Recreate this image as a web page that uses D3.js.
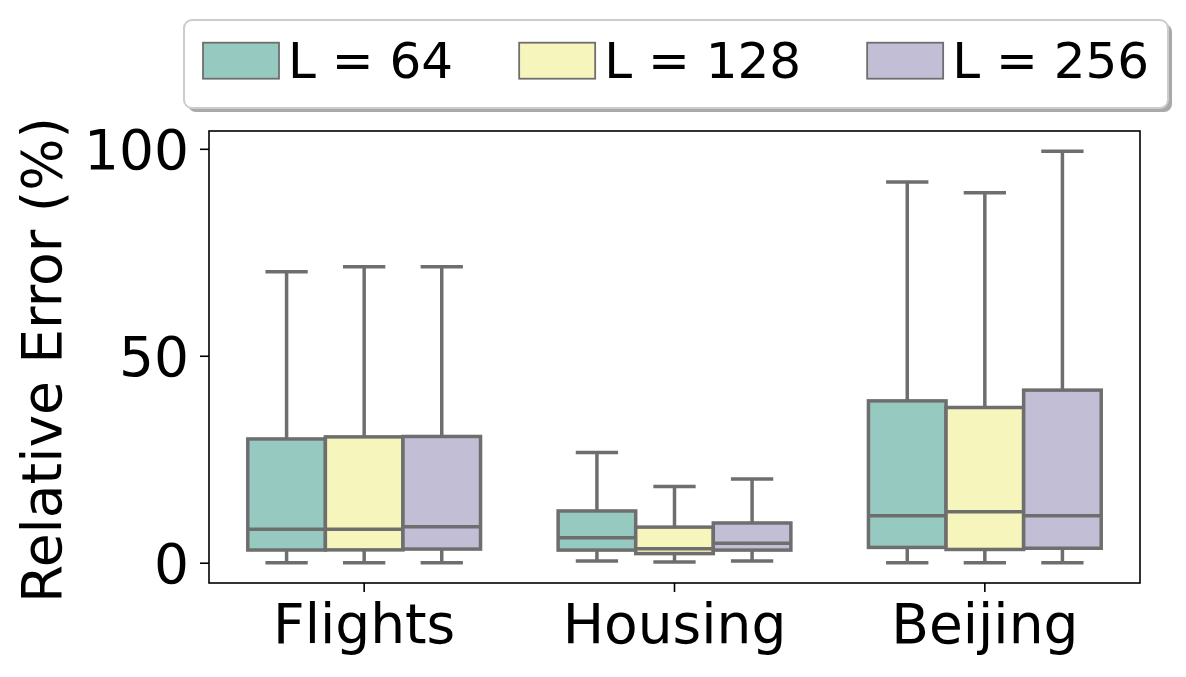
<!DOCTYPE html>
<html>
<head>
<meta charset="utf-8">
<script src="https://cdn.jsdelivr.net/npm/d3@7"></script>
<style>
  body { margin: 0; background: #fff; }
  text { font-family: "DejaVu Sans", sans-serif; fill: #000; }
</style>
</head>
<body>
<div id="chart"></div>
<script>
// categories and hue series
var categories = ["Flights", "Housing", "Beijing"];
var series = ["L = 64", "L = 128", "L = 256"];
var colors = ["#96cac1", "#f6f6bc", "#c1bed6"];
var yTicks = [0, 50, 100];

// box statistics, [category][series]
var whiskerLow = [[0, 0, 0], [0.4, 0.17, 0.4], [0, 0, 0]];
var q1 = [[3.07, 3.1, 3.3], [3.05, 2.2, 3.05], [3.7, 3.2, 3.5]];
var median = [[8.07, 8.1, 8.7], [6.05, 3.4, 4.7], [11.35, 12.3, 11.35]];
var q3 = [[29.9, 30.4, 30.5], [12.5, 8.6, 9.6], [39.1, 37.5, 41.7]];
var whiskerHigh = [[70.3, 71.5, 71.5], [26.6, 18.4, 20.2], [92.0, 89.4, 99.4]];

var W = 1186, H = 677;
var plotLeft = 209, plotRight = 1140, plotTop = 131, plotBottom = 583;
var lineColor = "#6e6e6e";
var lw = 3.5;

var svg = d3.select("#chart").append("svg")
    .attr("width", W)
    .attr("height", H);

var x = d3.scaleBand()
    .domain(categories)
    .range([plotLeft, plotRight])
    .padding(0);

var xHue = d3.scaleBand()
    .domain(series)
    .range([x.bandwidth() * 0.125, x.bandwidth() * 0.875])
    .padding(0);

var y = d3.scaleLinear()
    .domain([-4.9, 104.3])
    .range([plotBottom, plotTop]);

// flatten for drawing
var boxes = [];
categories.forEach(function(c, i) {
    series.forEach(function(s, j) {
        boxes.push({
            cat: c, ser: s, j: j,
            lo: whiskerLow[i][j], q1: q1[i][j], med: median[i][j],
            q3: q3[i][j], hi: whiskerHigh[i][j]
        });
    });
});

var bw = xHue.bandwidth();
function cx(d) { return x(d.cat) + xHue(d.ser) + bw / 2; }

var g = svg.append("g");

// whiskers
g.selectAll(".whisk-lo").data(boxes).enter().append("line")
    .attr("x1", cx).attr("x2", cx)
    .attr("y1", function(d) { return y(d.q1); })
    .attr("y2", function(d) { return y(d.lo); })
    .attr("stroke", lineColor).attr("stroke-width", lw);

g.selectAll(".whisk-hi").data(boxes).enter().append("line")
    .attr("x1", cx).attr("x2", cx)
    .attr("y1", function(d) { return y(d.q3); })
    .attr("y2", function(d) { return y(d.hi); })
    .attr("stroke", lineColor).attr("stroke-width", lw);

// caps
["lo", "hi"].forEach(function(k) {
    g.selectAll(".cap-" + k).data(boxes).enter().append("line")
        .attr("x1", function(d) { return cx(d) - bw / 4; })
        .attr("x2", function(d) { return cx(d) + bw / 4; })
        .attr("y1", function(d) { return y(d[k]); })
        .attr("y2", function(d) { return y(d[k]); })
        .attr("stroke", lineColor).attr("stroke-width", lw)
        .attr("stroke-linecap", "square");
});

// boxes
g.selectAll(".box").data(boxes).enter().append("rect")
    .attr("x", function(d) { return x(d.cat) + xHue(d.ser); })
    .attr("width", bw)
    .attr("y", function(d) { return y(d.q3); })
    .attr("height", function(d) { return y(d.q1) - y(d.q3); })
    .attr("fill", function(d) { return colors[d.j]; })
    .attr("stroke", lineColor).attr("stroke-width", lw);

// medians
g.selectAll(".med").data(boxes).enter().append("line")
    .attr("x1", function(d) { return x(d.cat) + xHue(d.ser); })
    .attr("x2", function(d) { return x(d.cat) + xHue(d.ser) + bw; })
    .attr("y1", function(d) { return y(d.med); })
    .attr("y2", function(d) { return y(d.med); })
    .attr("stroke", lineColor).attr("stroke-width", lw);

// frame
svg.append("rect")
    .attr("x", plotLeft).attr("y", plotTop)
    .attr("width", plotRight - plotLeft).attr("height", plotBottom - plotTop)
    .attr("fill", "none").attr("stroke", "#000").attr("stroke-width", 1.6);

// axes
var yAxis = svg.append("g")
    .attr("transform", "translate(" + plotLeft + ",0)")
    .call(d3.axisLeft(y).tickValues(yTicks).tickSize(9).tickPadding(11).tickFormat(d3.format("d")));
yAxis.select(".domain").remove();
yAxis.selectAll(".tick line").attr("stroke", "#000").attr("stroke-width", 1.6);
yAxis.selectAll(".tick text")
    .attr("dy", "0.36em")
    .style("font-size", "55px")
    .style("font-family", "DejaVu Sans");

var xAxis = svg.append("g")
    .attr("transform", "translate(0," + plotBottom + ")")
    .call(d3.axisBottom(x).tickSize(9));
xAxis.select(".domain").remove();
xAxis.selectAll(".tick line").attr("stroke", "#000").attr("stroke-width", 1.6);
xAxis.selectAll(".tick text")
    .attr("y", 60)
    .attr("dy", null)
    .style("font-size", "55px")
    .style("font-family", "DejaVu Sans");

svg.append("text")
    .attr("transform", "translate(61," + 360 + ") rotate(-90)")
    .style("text-anchor", "middle")
    .style("font-size", "55px")
    .text("Relative Error (%)");

// legend
var legend = svg.append("g");
legend.append("rect")
    .attr("x", 188).attr("y", 24)
    .attr("width", 984).attr("height", 88)
    .attr("rx", 8)
    .attr("fill", "#a0a0a0").attr("opacity", 0.9);
legend.append("rect")
    .attr("x", 184).attr("y", 20)
    .attr("width", 984).attr("height", 88)
    .attr("rx", 8)
    .attr("fill", "#fff").attr("stroke", "#cccccc").attr("stroke-width", 2);

var lx = 203;
series.forEach(function(s, j) {
    legend.append("rect")
        .attr("x", lx).attr("y", 42.7)
        .attr("width", 76).attr("height", 36)
        .attr("fill", colors[j])
        .attr("stroke", lineColor).attr("stroke-width", 1.8);
    var t = legend.append("text")
        .attr("x", lx + 85).attr("y", 78.3)
        .style("font-size", "50px")
        .text(s);
    lx = lx + 85 + t.node().getComputedTextLength() + 66;
});
</script>
</body>
</html>
